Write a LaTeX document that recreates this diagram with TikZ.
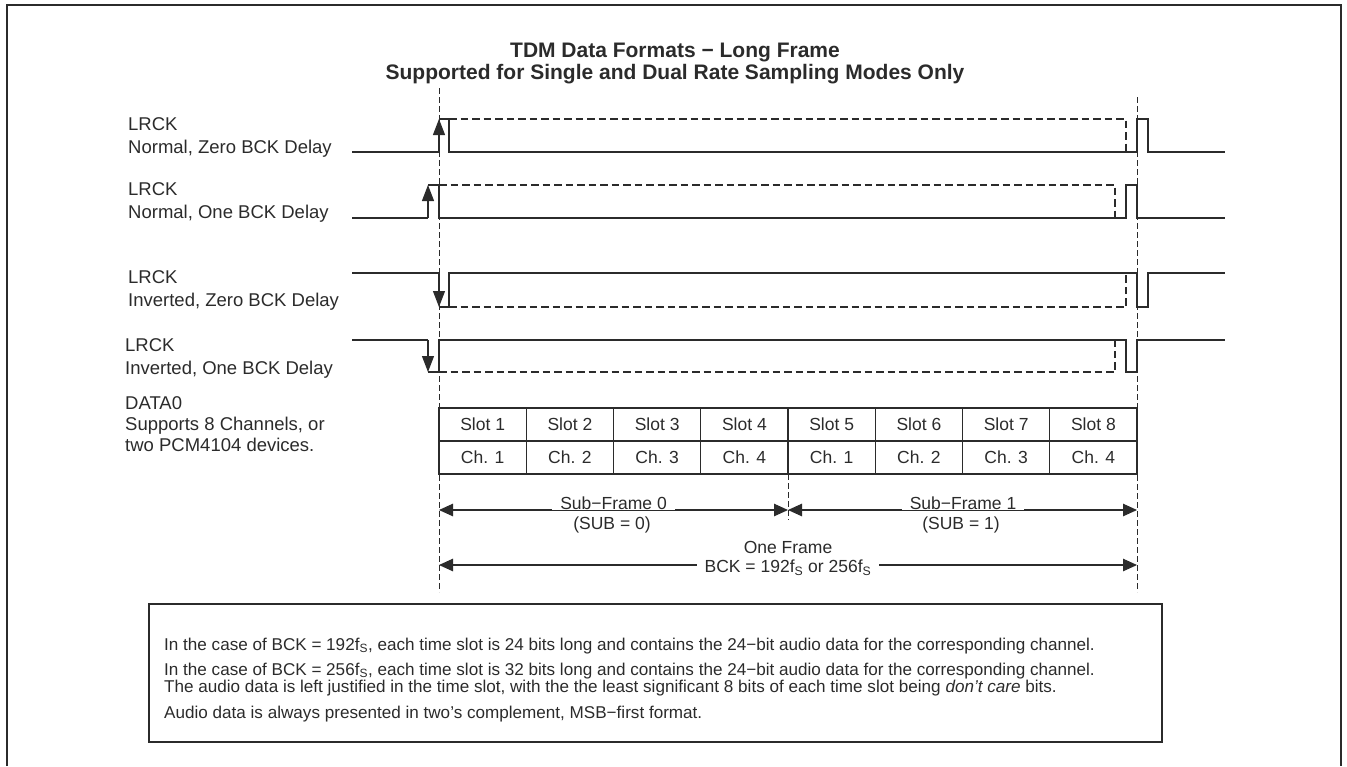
\documentclass[tikz,border=0pt]{standalone}
\usepackage{fontspec}
\setmainfont{Liberation Sans}
\usepackage{tikz}
\usetikzlibrary{arrows.meta}
\definecolor{inkgray}{HTML}{2B2B2B}

\begin{document}
\begin{tikzpicture}[x=1pt, y=-1pt, >={Triangle[length=14pt,width=12.5pt]},
  sig/.style={inkgray, line width=1.1pt},
  edge/.style={inkgray, line width=1.1pt, -{Triangle[length=16pt,width=12pt]}},
  hidden/.style={inkgray, line width=1.1pt, dash pattern=on 7.5pt off 4pt},
  guide/.style={inkgray, line width=0.9pt, dash pattern=on 6pt off 3pt},
  lbl/.style={anchor=base west, inner sep=0pt, align=left, text=inkgray,
    font=\fontsize{18.5}{23}\selectfont},
  cell/.style={draw=inkgray, line width=1.1pt, minimum width=87.25pt,
    minimum height=33pt, inner sep=0pt, text=inkgray,
    font=\fontsize{17.5}{20}\selectfont},
  dimtxt/.style={fill=white, inner xsep=8pt, inner ysep=1pt, text=inkgray,
    font=\fontsize{17.5}{20}\selectfont},
  plaintxt/.style={text=inkgray, font=\fontsize{17.5}{20}\selectfont},
  notetxt/.style={anchor=base west, inner sep=0pt, text=inkgray,
    font=\fontsize{17.1}{20}\selectfont}]
  \useasboundingbox (0,0) rectangle (1347,766);
  % outer frame
  \draw[inkgray, line width=2pt] (7,766) -- (7,5) -- (1341,5) -- (1341,766);
  \node[text=inkgray, align=center, font=\bfseries\fontsize{21}{22}\selectfont]
    (title) at (675,63) {TDM Data Formats − Long Frame\\
    Supported for Single and Dual Rate Sampling Modes Only};

  % frame boundaries
  \coordinate (fs) at (439,88);
  \coordinate (fe) at (1137,97);
  \draw[guide] (fs) -- (439,592);
  \draw[guide] (fe) -- (1137,592);
  \draw[guide] (788,474) -- (788,520);

  % signal labels (base = last line)
  \node[lbl] (lr1) at (128,153.5) {LRCK\\Normal, Zero BCK Delay};
  \node[lbl] (lr2) at (128,218.5) {LRCK\\Normal, One BCK Delay};
  \node[lbl] (lr3) at (128,306.5) {LRCK\\Inverted, Zero BCK Delay};
  \node[lbl] (lr4) at (125,374.5) {LRCK\\Inverted, One BCK Delay};
  \node[lbl, font=\fontsize{18.5}{21}\selectfont] (dat) at (125,451.5)
    {DATA0\\Supports 8 Channels, or\\two PCM4104 devices.};

  % LRCK normal, zero delay
  \draw[sig] (352,152) -- (439,152);
  \draw[edge] (439,152) -- (439,119);
  \draw[sig] (439,119) -- (449,119) -- (449,152) -- (1137,152) -- (1137,119)
    -- (1148,119) -- (1148,152) -- (1225,152);
  \draw[hidden] (449,119) -- (1126,119) -- (1126,152);
  % LRCK normal, one delay
  \draw[sig] (352,218) -- (428,218);
  \draw[edge] (428,218) -- (428,185);
  \draw[sig] (428,185) -- (439,185) -- (439,218) -- (1126,218) -- (1126,185)
    -- (1137,185) -- (1137,218) -- (1225,218);
  \draw[hidden] (439,185) -- (1115,185) -- (1115,218);
  % LRCK inverted, zero delay
  \draw[sig] (352,273) -- (439,273);
  \draw[edge] (439,273) -- (439,307);
  \draw[sig] (439,307) -- (449,307) -- (449,273) -- (1137,273) -- (1137,307)
    -- (1148,307) -- (1148,273) -- (1225,273);
  \draw[hidden] (449,307) -- (1126,307) -- (1126,273);
  % LRCK inverted, one delay
  \draw[sig] (352,340) -- (428,340);
  \draw[edge] (428,340) -- (428,372);
  \draw[sig] (428,372) -- (439,372) -- (439,340) -- (1126,340) -- (1126,372)
    -- (1137,372) -- (1137,340) -- (1225,340);
  \draw[hidden] (439,372) -- (1115,372) -- (1115,340);

  % time slots
  \foreach \i in {1,...,8} {
    \pgfmathtruncatemacro\chn{mod(\i-1,4)+1}
    \node[cell] (slot\i) at ({439+87.25*(\i-0.5)},424.5) {Slot \i};
    \node[cell] (ch\i) at ({439+87.25*(\i-0.5)},457.5) {Ch. \chn};
  }

  % sub-frames and frame
  \coordinate (s0l) at (439,510);
  \coordinate (s0r) at (788,510);
  \coordinate (s1r) at (1137,510);
  \draw[sig,<->] (s0l) -- (s0r);
  \draw[sig,<->] (s0r) -- (s1r);
  \node[dimtxt] (sub0) at (613.5,503) {Sub−Frame 0};
  \node[plaintxt] (sub0b) at (612,525) {(SUB = 0)};
  \node[dimtxt] (sub1) at (963,503) {Sub−Frame 1};
  \node[plaintxt] (sub1b) at (961,525) {(SUB = 1)};
  \coordinate (fl) at (439,565);
  \coordinate (fr) at (1137,565);
  \draw[sig,<->] (fl) -- (fr);
  \node[plaintxt] (one) at (788,547) {One Frame};
  \node[dimtxt] (bck) at (788,568) {BCK = 192f\textsubscript{S} or 256f\textsubscript{S}};

  % notes
  \draw[inkgray, line width=1.3pt] (149,604) rectangle (1162,742);
  \node[notetxt] (n1) at (164,650) {In the case of BCK = 192f\textsubscript{S}, each time slot is 24 bits long and contains the 24−bit audio data for the corresponding channel.};
  \node[notetxt] (n2) at (164,675) {In the case of BCK = 256f\textsubscript{S}, each time slot is 32 bits long and contains the 24−bit audio data for the corresponding channel.};
  \node[notetxt] (n3) at (164,692) {The audio data is left justified in the time slot, with the the least significant 8 bits of each time slot being \textit{don’t care} bits.};
  \node[notetxt] (n4) at (164,718) {Audio data is always presented in two’s complement, MSB−first format.};
\end{tikzpicture}
\end{document}
